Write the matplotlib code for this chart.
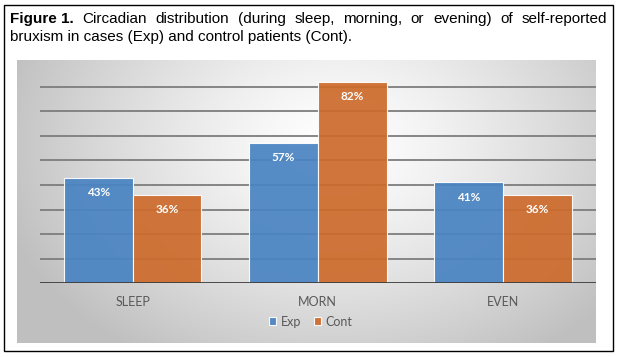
import numpy as np
import matplotlib
matplotlib.use("Agg")
import matplotlib.pyplot as plt
from matplotlib.patches import Rectangle

categories = ["SLEEP", "MORN", "EVEN"]
exp_vals = [43, 57, 41]
cont_vals = [36, 82, 36]
series_names = ["Exp", "Cont"]
title_bold = "Figure 1."
title_line1 = "Circadian distribution (during sleep, morning, or evening) of self-reported"
title_line2 = "bruxism in cases (Exp) and control patients (Cont)."

blue = "#4a84c2"
orange = "#cd6b2c"

W, H = 619, 357
fig = plt.figure(figsize=(W / 100, H / 100), dpi=100)
fig.patch.set_facecolor("white")

# outer frame of the figure box
fig.add_artist(Rectangle((4 / W, 1 - 351 / H), 609 / W, 346 / H, transform=fig.transFigure,
                         fill=False, edgecolor="black", linewidth=1.0))

# gradient panel behind the chart
pan = fig.add_axes([17 / W, 1 - 343 / H, 579 / W, 283 / H], zorder=0)
yy, xx = np.mgrid[0:1:200j, 0:1:400j]
r = np.sqrt(((xx - 0.55) / 0.6) ** 2 + ((yy - 0.3) / 0.9) ** 2)
g = 1 - 0.25 * np.clip(r, 0, 1) ** 1.3
pan.imshow(np.dstack([g, g, g]), aspect="auto", extent=[0, 1, 1, 0], interpolation="bilinear")
pan.axis("off")

# chart axes
ax = fig.add_axes([40 / W, 1 - 283.3 / H, 555.5 / W, 88 * 2.459 / H], zorder=1)
ax.patch.set_alpha(0)
x = np.arange(len(categories))
w = 0.372
b1 = ax.bar(x - w / 2, exp_vals, w, color=blue, edgecolor="white", linewidth=0.8, alpha=0.93,
            label=series_names[0], zorder=3)
b2 = ax.bar(x + w / 2, cont_vals, w, color=orange, edgecolor="white", linewidth=0.8, alpha=0.93,
            label=series_names[1], zorder=3)
ax.set_xlim(-0.5, 2.5)
ax.set_ylim(0, 88)
ax.set_yticks(np.arange(10, 81, 10))
ax.yaxis.grid(True, color="#7d7d7d", linewidth=1.3, zorder=1)
ax.axhline(0, color="#3c3c3c", linewidth=2, zorder=4)
ax.tick_params(left=False, bottom=False, labelleft=False)
ax.set_xticks(x)
ax.set_xticklabels(categories, fontsize=9, color="#595959", family="Lato")
ax.tick_params(axis="x", pad=6)
for s in ax.spines.values():
    s.set_visible(False)

for bars, vals in ((b1, exp_vals), (b2, cont_vals)):
    for bar, v in zip(bars, vals):
        ax.text(bar.get_x() + bar.get_width() / 2, v - 6, f"{v}%", ha="center", va="center",
                color="white", fontsize=8.5, fontweight="bold", family="Lato", zorder=5)

leg = fig.legend(loc="center", bbox_to_anchor=(311 / W, 1 - 321.5 / H), ncol=2, frameon=False,
                 prop={"family": "Lato", "size": 9}, handlelength=0.55, handleheight=0.55,
                 handletextpad=0.4, columnspacing=1.0, labelcolor="#595959")

# caption, first line justified
fig.canvas.draw()
ren = fig.canvas.get_renderer()
words = [title_bold] + title_line1.split()
x0, x1 = 10, 607
base1 = 1 - 23 / H
txts = []
for i, wd in enumerate(words):
    t = fig.text(0, base1, wd, fontsize=11, family="Liberation Sans", va="baseline",
                 fontweight="bold" if i == 0 else "normal")
    txts.append(t)
widths = [t.get_window_extent(ren).width for t in txts]
gap = (x1 - x0 - sum(widths)) / (len(words) - 1)
pos = x0
for t, wd in zip(txts, widths):
    t.set_x(pos / W)
    pos += wd + gap
fig.text(x0 / W, 1 - 40.5 / H, title_line2, fontsize=11, family="Liberation Sans", va="baseline")

fig.savefig("out.png", dpi=100)
